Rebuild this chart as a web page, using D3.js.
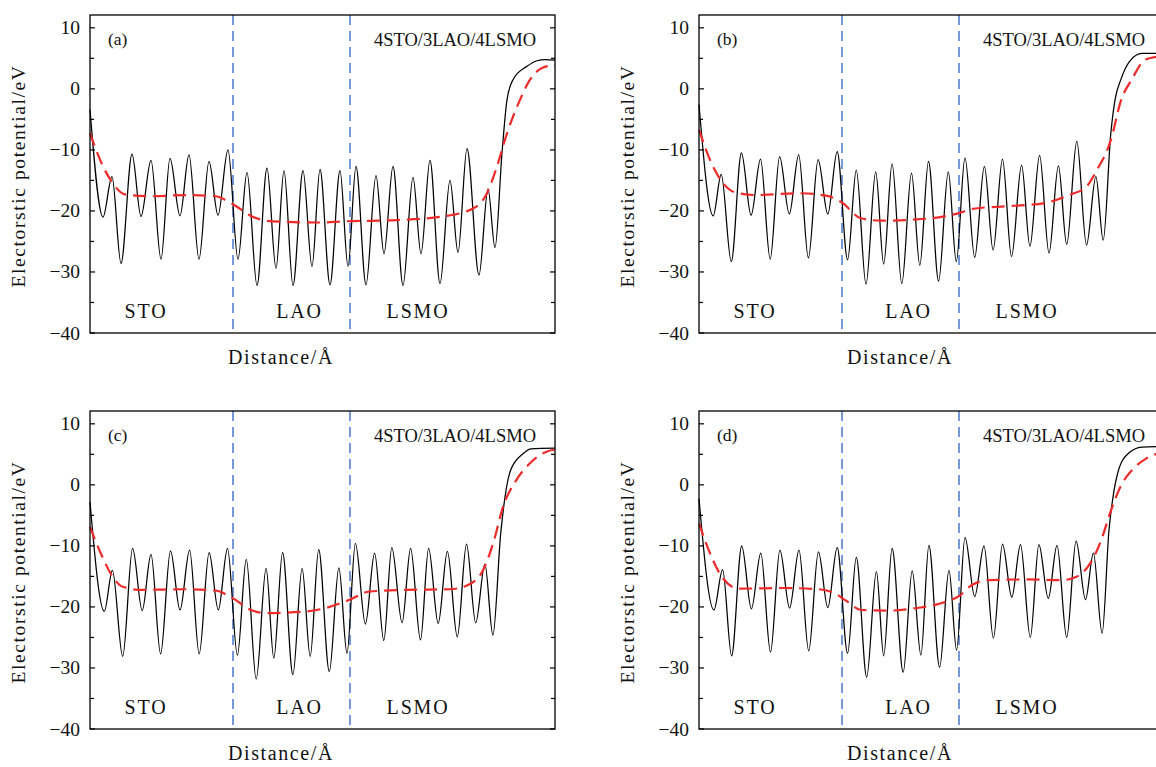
<!DOCTYPE html>
<html>
<head>
<meta charset="utf-8">
<script src="https://cdn.jsdelivr.net/npm/d3@7"></script>
<style>
  html, body { margin: 0; padding: 0; background: #fff; }
  svg { display: block; }
  text { font-family: "Liberation Serif", "Times New Roman", serif; fill: #111; }
</style>
</head>
<body>
<svg id="chart" width="1156" height="767"></svg>
<script>
// Electrostatic potential across the 4STO/3LAO/4LSMO slab, four configurations.
// Each black profile is given by its successive extrema (distance in Å, potential in eV);
// each red dashed profile is the layer-averaged potential.

const potA = [[0,-3.4],[1.3,-21.0],[2.2,-14.4],[3.1,-28.6],[4.2,-10.7],[5.1,-20.9],[6.1,-11.7],[7.1,-27.9],[8.0,-11.4],[9.0,-20.8],[9.9,-10.8],[10.9,-27.9],[11.9,-11.9],[12.8,-20.7],[13.8,-10.0],[14.8,-27.9],[15.7,-13.7],[16.7,-32.2],[17.7,-13.0],[18.6,-29.4],[19.4,-13.4],[20.3,-32.2],[21.3,-13.4],[22.2,-29.1],[23.0,-13.2],[24.0,-32.1],[25.0,-13.4],[25.8,-29.1],[26.6,-12.7],[27.6,-32.1],[28.6,-14.2],[29.4,-27.0],[30.3,-12.7],[31.3,-32.2],[32.3,-14.5],[33.1,-27.0],[34.0,-11.7],[35.0,-31.9],[36.0,-15.0],[36.8,-26.8],[37.7,-9.8],[38.9,-30.5],[39.8,-16.4],[40.5,-26.0],[41.2,-10.5],[41.7,-1.8],[42.3,1.5],[43.7,3.7],[44.7,4.6],[45.5,4.8],[46.5,4.7]];
const avgA = [[0,-7.3],[1.3,-12.7],[2.3,-15.5],[3.5,-17.3],[6.2,-17.6],[9.5,-17.4],[12.5,-17.6],[14.3,-18.9],[16.2,-20.9],[18.2,-21.7],[22.8,-21.9],[25.5,-21.7],[30.7,-21.5],[35.3,-20.9],[38.3,-19.6],[39.7,-17.1],[40.7,-12.7],[41.7,-7.3],[43.0,-1.8],[44.0,1.5],[45.2,3.4],[46.5,3.9]];

const potB = [[0,-2.6],[1.42,-20.8],[2.22,-14.0],[3.23,-28.3],[4.24,-10.5],[5.21,-20.7],[6.15,-11.5],[7.12,-27.9],[8.06,-11.1],[9.03,-20.5],[9.97,-10.8],[10.94,-27.7],[11.91,-11.6],[12.88,-20.5],[13.82,-10.3],[14.86,-28.0],[15.73,-13.3],[16.7,-32.0],[17.67,-13.6],[18.47,-28.7],[19.31,-12.3],[20.28,-31.9],[21.25,-13.8],[22.08,-28.9],[22.95,-11.9],[23.96,-31.5],[24.93,-13.6],[25.73,-28.3],[26.6,-11.3],[27.57,-27.6],[28.54,-12.7],[29.41,-26.4],[30.35,-11.5],[31.25,-27.5],[32.26,-12.5],[33.09,-25.8],[34.06,-10.9],[35.0,-26.9],[35.94,-12.6],[36.77,-25.5],[37.78,-8.6],[38.75,-25.6],[39.69,-14.4],[40.42,-24.8],[41.18,-7.3],[41.6,-1.8],[42.2,1.6],[43.1,4.6],[44.3,5.8],[46.5,5.8]];
const avgB = [[0,-6.7],[1.25,-12.2],[2.29,-15.2],[3.68,-17.0],[5.76,-17.4],[9.93,-17.1],[12.71,-17.5],[14.27,-18.6],[16.18,-21.2],[18.26,-21.6],[21.74,-21.4],[24.51,-20.9],[25.9,-20.4],[27.64,-19.6],[31.11,-19.2],[34.58,-18.7],[37.01,-17.4],[38.75,-16.0],[39.79,-13.3],[41.18,-8.4],[42.22,-1.8],[43.26,1.5],[44.65,4.8],[46.5,5.4]];

const potC = [[0,-2.8],[1.43,-20.7],[2.24,-14.0],[3.27,-28.1],[4.26,-10.4],[5.22,-20.6],[6.1,-11.4],[7.06,-27.7],[8.05,-10.8],[9.0,-20.5],[9.96,-10.7],[10.92,-27.7],[11.91,-11.1],[12.83,-20.5],[13.75,-10.4],[14.74,-27.9],[15.63,-12.2],[16.62,-31.8],[17.61,-13.7],[18.38,-28.4],[19.26,-11.1],[20.29,-31.1],[21.21,-13.7],[22.02,-28.1],[22.87,-10.6],[23.93,-30.6],[24.89,-13.6],[25.7,-27.6],[26.54,-9.6],[27.54,-22.8],[28.46,-11.2],[29.38,-25.5],[30.18,-10.3],[31.21,-22.6],[32.06,-10.4],[33.05,-25.4],[33.86,-10.4],[34.82,-22.7],[35.74,-10.9],[36.73,-24.9],[37.65,-9.7],[38.57,-22.6],[39.49,-13.0],[40.29,-24.6],[41.07,-8.0],[41.5,-2.0],[42.06,2.4],[43.3,5.1],[44.1,5.9],[46.5,6.0]];
const avgC = [[0,-6.9],[1.07,-11.2],[2.17,-14.8],[3.27,-16.7],[5.1,-17.2],[9.5,-17.1],[12.5,-17.3],[14.3,-18.6],[16.1,-20.5],[17.6,-21.0],[21.3,-20.8],[23.5,-20.2],[26.0,-18.8],[27.9,-17.5],[31.6,-17.2],[36.0,-17.1],[37.8,-16.4],[39.3,-14.0],[40.4,-9.1],[41.3,-3.6],[42.6,0.7],[44.1,3.7],[45.6,5.4],[46.5,5.8]];

const potD = [[0,-2.3],[1.49,-20.5],[2.36,-13.9],[3.26,-28.0],[4.27,-10.0],[5.24,-20.3],[6.18,-11.2],[7.15,-27.4],[8.09,-10.7],[9.06,-20.2],[10.0,-10.7],[10.97,-27.2],[11.94,-11.0],[12.88,-20.1],[13.82,-10.3],[14.86,-27.6],[15.73,-11.9],[16.77,-31.5],[17.74,-14.2],[18.47,-28.0],[19.31,-10.4],[20.42,-30.7],[21.32,-14.1],[22.19,-27.9],[22.99,-9.9],[24.06,-29.9],[25.0,-14.0],[25.76,-27.1],[26.6,-8.6],[27.57,-18.3],[28.5,-10.0],[29.44,-25.1],[30.35,-9.7],[31.28,-18.4],[32.15,-9.8],[33.13,-25.0],[33.99,-9.8],[34.93,-18.6],[35.8,-9.9],[36.77,-25.0],[37.71,-9.2],[38.65,-18.8],[39.44,-11.2],[40.31,-24.3],[41.0,-7.4],[41.4,-2.0],[41.9,2.1],[42.9,5.1],[44.3,6.2],[46.5,6.3]];
const avgD = [[0,-6.3],[1.25,-11.8],[2.3,-15.1],[4.0,-17.0],[8.5,-16.9],[12.0,-17.1],[13.6,-17.8],[14.8,-19.1],[16.2,-20.5],[19.0,-20.6],[21.7,-20.2],[24.2,-19.4],[26.1,-18.1],[27.3,-16.4],[29.0,-15.6],[32.8,-15.5],[36.3,-15.6],[37.7,-15.1],[39.1,-12.9],[40.1,-9.6],[41.2,-4.2],[42.2,-0.1],[43.3,2.4],[44.7,4.3],[46.5,5.4]];

// Interfaces (Å) and layer names with their label positions (Å)
const interfaces = [14.3, 26.0];
const layerNames = ["STO", "LAO", "LSMO"];
const layerCentres = [5.6, 20.95, 32.8];

const yTicksMajor = [10, 0, -10, -20, -30, -40];
const yTicksMinor = [5, -5, -15, -25, -35];

const panelTags = ["(a)", "(b)", "(c)", "(d)"];
const stackName = "4STO/3LAO/4LSMO";
const xTitle = "Distance/Å";
const yTitle = "Electorstic potential/eV";

const xDomain = [0, 46.5];
const yDomain = [-40, 12.1];

// Layout
const W = 465, H = 318;
const panels = [
  { tag: panelTags[0], left: 90,  top: 15,  pot: potA, avg: avgA, titleDx: 191 },
  { tag: panelTags[1], left: 699, top: 15,  pot: potB, avg: avgB, titleDx: 201 },
  { tag: panelTags[2], left: 90,  top: 411, pot: potC, avg: avgC, titleDx: 191 },
  { tag: panelTags[3], left: 699, top: 411, pot: potD, avg: avgD, titleDx: 201 }
];

const svg = d3.select("#chart");

panels.forEach(p => {
  const x = d3.scaleLinear().domain(xDomain).range([p.left, p.left + W]);
  const y = d3.scaleLinear().domain(yDomain).range([p.top + H, p.top]);
  const g = svg.append("g");

  // interface markers
  g.selectAll("line.iface").data(interfaces).join("line")
    .attr("class", "iface")
    .attr("x1", d => x(d)).attr("x2", d => x(d))
    .attr("y1", p.top).attr("y2", p.top + H)
    .attr("stroke", "#2d63c4").attr("stroke-width", 1.3)
    .attr("stroke-dasharray", "10,6");

  const line = d3.line()
    .x(d => x(d[0])).y(d => y(d[1]))
    .curve(d3.curveMonotoneX);

  // planar potential
  g.append("path").datum(p.pot)
    .attr("d", line)
    .attr("fill", "none").attr("stroke", "#000").attr("stroke-width", 1.25);

  // averaged potential
  g.append("path").datum(p.avg)
    .attr("d", line)
    .attr("fill", "none").attr("stroke", "#ee2a2a").attr("stroke-width", 2.2)
    .attr("stroke-dasharray", "13,7");

  // frame
  g.append("rect")
    .attr("x", p.left).attr("y", p.top).attr("width", W).attr("height", H)
    .attr("fill", "none").attr("stroke", "#000").attr("stroke-width", 1.3);

  // inward ticks on left and right
  const ticks = yTicksMajor.map(v => ({ v, len: 5 })).concat(yTicksMinor.map(v => ({ v, len: 4 })));
  g.selectAll("line.tl").data(ticks).join("line")
    .attr("x1", p.left).attr("x2", d => p.left + d.len)
    .attr("y1", d => y(d.v)).attr("y2", d => y(d.v))
    .attr("stroke", "#000").attr("stroke-width", 1.2);
  g.selectAll("line.tr").data(ticks).join("line")
    .attr("x1", p.left + W).attr("x2", d => p.left + W - d.len)
    .attr("y1", d => y(d.v)).attr("y2", d => y(d.v))
    .attr("stroke", "#000").attr("stroke-width", 1.2);

  // tick labels
  g.selectAll("text.tk").data(yTicksMajor).join("text")
    .attr("x", p.left - 10).attr("y", d => y(d) + 6.5)
    .attr("text-anchor", "end").attr("font-size", 19.5)
    .text(d => d < 0 ? "\u2212" + Math.abs(d) : String(d));

  // panel tag and stack name
  g.append("text").attr("x", p.left + 18).attr("y", p.top + 30)
    .attr("font-size", 17.5).text(p.tag);
  g.append("text").attr("x", p.left + W - 19).attr("y", p.top + 31)
    .attr("text-anchor", "end").attr("font-size", 18.5).text(stackName);

  // layer names
  g.selectAll("text.layer").data(layerNames).join("text")
    .attr("x", (d, i) => x(layerCentres[i])).attr("y", p.top + H - 15)
    .attr("text-anchor", "middle").attr("font-size", 20).attr("letter-spacing", 1.8)
    .text(d => d);

  // axis titles
  g.append("text").attr("x", p.left + p.titleDx).attr("y", p.top + H + 31)
    .attr("text-anchor", "middle").attr("font-size", 20).attr("letter-spacing", 1.6)
    .text(xTitle);
  g.append("text")
    .attr("transform", `translate(${p.left - 65},${p.top + H / 2 + 2}) rotate(-90)`)
    .attr("text-anchor", "middle").attr("font-size", 19.5).attr("letter-spacing", 1.6)
    .text(yTitle);
});
</script>
</body>
</html>
